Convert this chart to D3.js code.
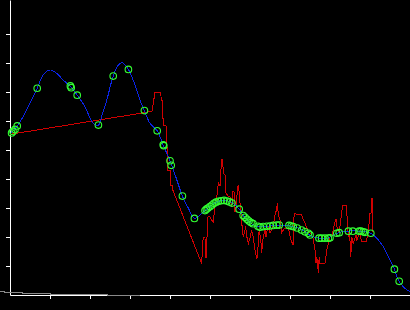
<!DOCTYPE html>
<html lang="en">
<head>
    <script src="https://d3js.org/d3.v7.min.js"></script>
    <style>
        body { margin: 0; background: #000; }
    </style>
</head>
<body>
<script>
    // noisy measurements (red)
    var measX = [0, 3.55, 3.625, 3.77, 3.78, 3.81, 3.82, 3.83, 3.84, 3.90, 3.91, 3.93, 3.94, 4.01, 4.02, 4.06, 4.07,
        4.79, 4.83, 4.875, 4.88, 4.92, 4.925, 4.95, 5.0, 5.04, 5.08, 5.125, 5.15, 5.21, 5.25, 5.29, 5.32, 5.33,
        5.375, 5.4, 5.46, 5.5, 5.54, 5.57, 5.6, 5.625, 5.67, 5.68, 5.71, 5.73, 5.75, 5.775, 5.79, 5.83, 5.86,
        5.89, 5.92, 5.96, 6.0, 6.04, 6.08, 6.125, 6.17, 6.19, 6.21, 6.23, 6.27, 6.29, 6.33, 6.375, 6.4, 6.42,
        6.46, 6.48, 6.5, 6.54, 6.58, 6.625, 6.67, 6.68, 6.71, 6.75, 6.79, 6.83, 6.875, 6.96, 7.0, 7.04, 7.08,
        7.1, 7.125, 7.17, 7.25, 7.29, 7.33, 7.375, 7.42, 7.46, 7.5, 7.54, 7.58, 7.625, 7.65, 7.67, 7.71, 7.73,
        7.75, 7.875, 7.92, 7.96, 8.0, 8.04, 8.08, 8.125, 8.15, 8.17, 8.21, 8.23, 8.25, 8.29, 8.32, 8.4, 8.42,
        8.46, 8.49, 8.52, 8.54, 8.58, 8.625, 8.65, 8.67, 8.75, 8.79, 8.92, 8.93, 8.96, 9.0, 9.025, 9.04, 9.06, 9.06];
    var measY = [5.54, 6.33, 6.99, 6.99, 6.72, 6.72, 6.09, 6.09, 5.84, 5.84, 5.07, 5.07, 4.31, 4.31, 3.79, 3.79, 3.62,
        1.09, 2.0, 2.0, 1.28, 1.28, 2.0, 2.69, 2.69, 2.59, 2.53, 3.04, 3.17, 3.86, 3.76, 4.66, 4.66, 4.21,
        4.14, 3.52, 3.39, 3.38, 3.04, 3.56, 3.56, 2.87, 3.17, 3.69, 3.79, 3.52, 3.17, 2.93, 2.53, 2.01, 2.14,
        2.36, 2.01, 1.78, 1.96, 2.24, 2.01, 1.55, 1.27, 1.28, 2.01, 2.24, 1.90, 1.45, 2.01, 2.24, 2.01, 2.18,
        2.36, 2.36, 2.14, 2.24, 2.38, 2.76, 2.97, 3.17, 2.76, 2.59, 2.14, 2.24, 2.31, 2.31, 2.03, 1.84, 1.72,
        2.70, 2.83, 2.76, 2.76, 2.79, 2.59, 2.48, 2.31, 2.18, 2.14, 2.07, 1.96, 1.55, 1.10, 1.32, 0.76, 1.32,
        1.09, 1.09, 1.55, 1.78, 2.01, 2.01, 2.24, 2.53, 2.61, 2.36, 2.24, 2.14, 2.36, 2.82, 3.10, 3.10, 2.82,
        2.01, 2.14, 1.32, 2.01, 1.78, 1.96, 2.07, 1.90, 2.13, 1.84, 1.84, 2.07, 2.24, 2.82, 2.82, 3.33, 3.33, 2.17];

    // smoothed estimate (blue)
    var fitX = [0.02, 0.075, 0.18, 0.375, 0.68, 0.83, 1.0, 1.17, 1.33, 1.52, 1.68, 1.875, 2.08, 2.21, 2.29, 2.42,
        2.58, 2.71, 2.81, 2.96, 3.08, 3.25, 3.36, 3.5, 3.68, 3.83, 4.0, 4.17, 4.31, 4.46, 4.61, 4.75, 4.875,
        5.0, 5.17, 5.33, 5.45, 5.58, 5.73, 5.83, 5.96, 6.17, 6.42, 6.67, 6.875, 7.08, 7.25, 7.375, 7.54, 7.75,
        7.96, 8.17, 8.42, 8.75, 9.02, 9.17, 9.33, 9.46, 9.61, 9.725, 9.875, 10.0];
    var fitY = [5.60, 5.66, 5.83, 6.27, 7.13, 7.59, 7.76, 7.64, 7.41, 7.18, 6.89, 6.49, 5.92, 5.86, 6.15, 6.72,
        7.55, 7.93, 8.01, 7.78, 7.41, 6.72, 6.36, 5.92, 5.66, 5.17, 4.63, 3.97, 3.41, 2.99, 2.64, 2.76, 2.91,
        3.05, 3.21, 3.26, 3.24, 3.16, 2.96, 2.74, 2.54, 2.37, 2.37, 2.41, 2.40, 2.36, 2.28, 2.18, 2.03, 1.96,
        1.97, 2.13, 2.20, 2.20, 2.13, 1.96, 1.67, 1.32, 0.89, 0.47, 0.23, 0.11];

    // sample points (green)
    var sampX = [0.04, 0.075, 0.125, 0.18, 0.68, 1.51, 1.53, 1.68, 2.21, 2.58, 2.96, 3.36, 3.68, 3.83, 3.845,
        4.0, 4.03, 4.31, 4.61, 4.875, 4.91, 4.95, 5.0, 5.05, 5.1, 5.15, 5.21, 5.275, 5.35, 5.425, 5.49, 5.55,
        5.73, 5.83, 5.875, 5.925, 5.975, 6.025, 6.075, 6.2, 6.25, 6.33, 6.42, 6.5, 6.58, 6.67, 6.73, 6.975,
        7.03, 7.08, 7.18, 7.29, 7.375, 7.46, 7.5, 7.725, 7.79, 7.875, 7.96, 8.0, 8.17, 8.23, 8.46, 8.57, 8.73,
        8.775, 8.83, 8.875, 9.02, 9.61, 9.73];
    var sampY = [5.59, 5.64, 5.71, 5.83, 7.13, 7.21, 7.15, 6.89, 5.86, 7.55, 7.78, 6.36, 5.66, 5.18, 5.15,
        4.63, 4.47, 3.41, 2.64, 2.91, 2.96, 3.0, 3.05, 3.10, 3.16, 3.2, 3.23, 3.25, 3.26, 3.24, 3.21, 3.17,
        2.96, 2.74, 2.68, 2.61, 2.55, 2.5, 2.46, 2.37, 2.34, 2.36, 2.37, 2.38, 2.40, 2.41, 2.41, 2.40,
        2.38, 2.36, 2.31, 2.24, 2.18, 2.13, 2.07, 1.96, 1.96, 1.96, 1.96, 1.97, 2.13, 2.15, 2.20, 2.20, 2.20,
        2.20, 2.18, 2.16, 2.13, 0.89, 0.47];

    // gray step trace along the bottom
    var stepX = [-0.3, -0.15, 0.3, 1.0, 2.43, 3.25];
    var stepY = [0.12, 0.086, 0.052, 0.017, -0.017, -0.017];

    var tickVals = [1, 2, 3, 4, 5, 6, 7, 8, 9];

    var width = 410, height = 310;

    var svg = d3.select("body")
        .append("svg")
        .attr("width", width)
        .attr("height", height)
        .style("display", "block")
        .style("background", "#000");

    var x = d3.scaleLinear().domain([0, 10]).range([10, 410]);
    var y = d3.scaleLinear().domain([0, 295 / 29]).range([295, 0]);

    svg.append("g")
        .attr("transform", "translate(10,0)")
        .call(d3.axisLeft(y).tickValues(tickVals).tickSize(4).tickSizeOuter(0).tickFormat(""));

    svg.append("g")
        .attr("transform", "translate(0,295)")
        .call(d3.axisBottom(x).tickValues(tickVals.concat([10])).tickSize(4).tickSizeOuter(0).tickFormat(""));

    svg.selectAll(".domain, .tick line").attr("stroke", "#fff");

    function pts(xs, ys) {
        return xs.map(function (d, i) { return [d, ys[i]]; });
    }

    var line = d3.line()
        .x(function (d) { return x(d[0]); })
        .y(function (d) { return y(d[1]); });

    svg.append("path")
        .datum(pts(stepX, stepY))
        .attr("fill", "none")
        .attr("stroke", "#8a8a8a")
        .attr("shape-rendering", "crispEdges")
        .attr("d", line.curve(d3.curveStepAfter));

    svg.append("path")
        .datum(pts(measX, measY))
        .attr("fill", "none")
        .attr("stroke", "#d00000")
        .attr("stroke-width", 1)
        .attr("shape-rendering", "crispEdges")
        .attr("d", line.curve(d3.curveLinear));

    svg.append("path")
        .datum(pts(fitX, fitY))
        .attr("fill", "none")
        .attr("stroke", "#0a24e6")
        .attr("stroke-width", 1)
        .attr("shape-rendering", "crispEdges")
        .attr("d", line.curve(d3.curveCatmullRom.alpha(0.5)));

    svg.selectAll("circle")
        .data(pts(sampX, sampY))
        .enter()
        .append("circle")
        .attr("cx", function (d) { return x(d[0]); })
        .attr("cy", function (d) { return y(d[1]); })
        .attr("r", 3.3)
        .attr("fill", "none")
        .attr("stroke", "#33ff33")
        .attr("stroke-width", 1.1);
</script>
</body>
</html>
